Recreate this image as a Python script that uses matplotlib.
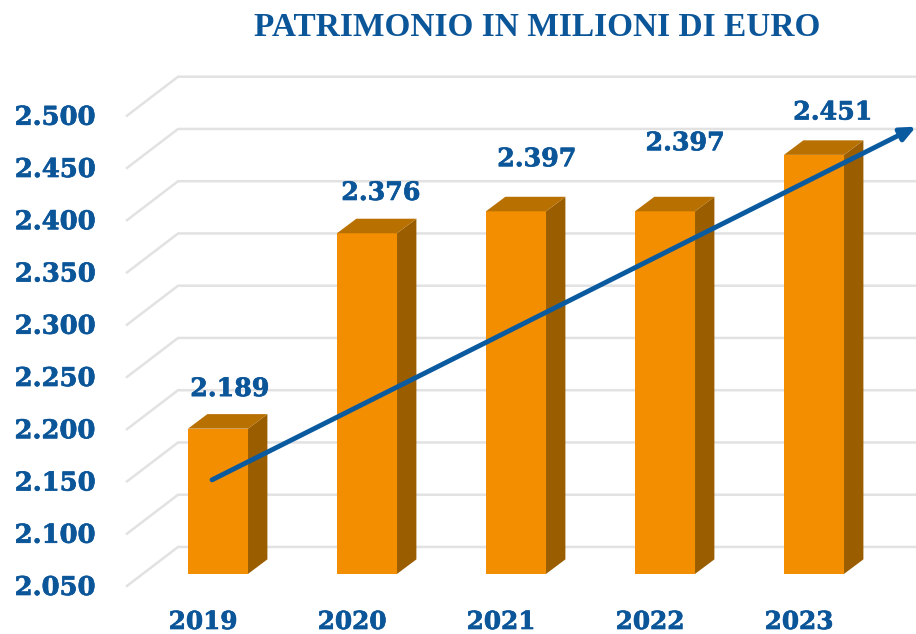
import numpy as np
import matplotlib
matplotlib.use('Agg')
import matplotlib.pyplot as plt
import matplotlib.patheffects as pe
from matplotlib.patches import Polygon

# Data
Years = ['2019', '2020', '2021', '2022', '2023']
Values = [2189, 2376, 2397, 2397, 2451]
Y_Ticks = [2050, 2100, 2150, 2200, 2250, 2300, 2350, 2400, 2450, 2500]
Title = 'PATRIMONIO IN MILIONI DI EURO'
Trend_X = [-0.04, 4.685]
Trend_Y = [2140, 2478]

# Style
Blue = '#0B5599'
Arrow_Blue = '#0A5AA0'
Front = '#F28E00'
Side = '#9A5E00'
Top = '#B87000'
Grid = '#E2E2E2'
Serif = 'DejaVu Serif'
Heavy = [pe.withStroke(linewidth=0.5, foreground=Blue)]

# Depth of the fake 3D box, in data units
Bar_Width = 0.403
Bar_Dx, Bar_Dy = 0.130, 13.9
Wall_Left, Wall_Front = -0.611, -0.268
Wall_Right = 4.685
Dy_Front, Dy_Back = -11.5, 25.8

# Manual label offsets in points (labels were placed by hand in the original)
Label_Offset = [(8.5, 28.5), (10, 29), (15, 37.5), (14.5, 49), (13.5, 30.5)]

fig = plt.figure(figsize=(9.16, 6.34), dpi=100)
ax = fig.add_axes([0, 0, 1, 1])
ax.set_xlim(-218 / 149, (916 - 218) / 149)
ax.set_ylim(1992.5, 2599.2)
ax.axis('off')

# Gridlines: slanted side wall + back wall
for i_Tick in Y_Ticks:
	ax.plot([Wall_Left, Wall_Front, Wall_Right], [i_Tick + Dy_Front, i_Tick + Dy_Back, i_Tick + Dy_Back],
		color=Grid, linewidth=1.8, solid_joinstyle='miter', zorder=1)
	ax.text(-0.818, i_Tick + Dy_Front - 1.5, '{:.3f}'.format(i_Tick / 1000), color=Blue, fontsize=18.6,
		fontweight='bold', family=Serif, ha='right', va='center', path_effects=Heavy)

# Bars
Base = Y_Ticks[0]
Xs = np.arange(len(Values))
ax.bar(Xs, np.array(Values) - Base, bottom=Base, width=Bar_Width, color=Front, zorder=3)
for i_X, i_Value, i_Offset in zip(Xs, Values, Label_Offset):
	Right = i_X + Bar_Width / 2
	Left = i_X - Bar_Width / 2
	ax.add_patch(Polygon([(Right, Base), (Right + Bar_Dx, Base + Bar_Dy), (Right + Bar_Dx, i_Value + Bar_Dy), (Right, i_Value)],
		closed=True, facecolor=Side, edgecolor='none', zorder=3))
	ax.add_patch(Polygon([(Left, i_Value), (Left + Bar_Dx, i_Value + Bar_Dy), (Right + Bar_Dx, i_Value + Bar_Dy), (Right, i_Value)],
		closed=True, facecolor=Top, edgecolor='none', zorder=3))
	ax.annotate('{:.3f}'.format(i_Value / 1000), xy=(i_X, i_Value), xytext=i_Offset, textcoords='offset points',
		color=Blue, fontsize=18.2, fontweight='bold', family=Serif, ha='center', va='center', zorder=6, path_effects=Heavy)

# Category labels
for i_X, i_Year in zip(Xs, Years):
	ax.text(i_X - 0.1, 2004, i_Year, color=Blue, fontsize=17.8, fontweight='bold', family=Serif, ha='center', va='center', path_effects=Heavy)

# Trend arrow
ax.annotate('', xy=(Trend_X[1], Trend_Y[1]), xytext=(Trend_X[0], Trend_Y[0]),
	arrowprops=dict(arrowstyle='-|>,head_length=0.9,head_width=0.4', color=Arrow_Blue, linewidth=3.5, shrinkA=0, shrinkB=0), zorder=5)

# Title
fig.text(537 / 916, 1 - 28 / 634, Title, color=Blue, fontsize=24, fontweight='bold', family='Liberation Serif', ha='center', va='center')

plt.savefig('out.png', dpi=100)
plt.close('all')
